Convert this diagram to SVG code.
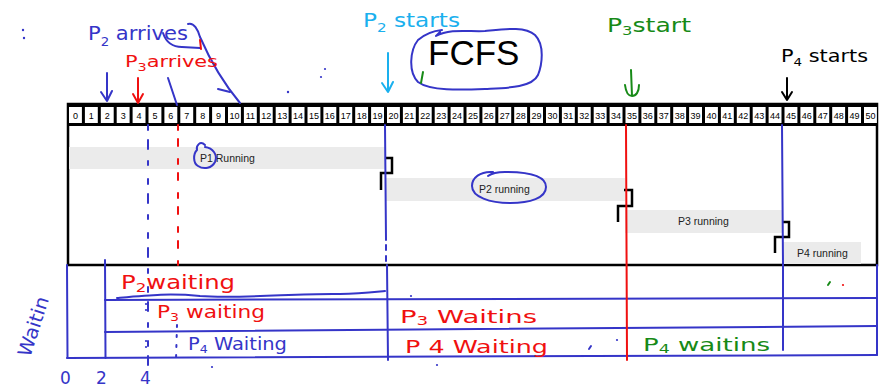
<svg xmlns="http://www.w3.org/2000/svg" width="879" height="387" viewBox="0 0 879 387">
<style>
.cell{fill:#fff}
.cl{font-family:"Liberation Sans",Arial,sans-serif;font-size:9px;text-anchor:middle;fill:#000}
.bar{fill:#ebebeb}
.bt{font-family:"Liberation Sans",Arial,sans-serif;font-size:10.5px;fill:#222}
.hb{stroke:#3535c8;fill:none;stroke-width:2;stroke-linecap:round;stroke-linejoin:round}
.hr{stroke:#f01010;fill:none;stroke-width:2;stroke-linecap:round;stroke-linejoin:round}
.hc{stroke:#1ab0ee;fill:none;stroke-width:2;stroke-linecap:round;stroke-linejoin:round}
.hg{stroke:#178a17;fill:none;stroke-width:2;stroke-linecap:round;stroke-linejoin:round}
.hk{stroke:#000;fill:none;stroke-width:2;stroke-linecap:round;stroke-linejoin:round}
.hw{font-family:"DejaVu Sans","Liberation Sans",sans-serif}
.tb{fill:#3535c8}.tr{fill:#f01010}.tc{fill:#1ab0ee}.tg{fill:#178a17}.tk{fill:#000}
.conn{stroke:#000;stroke-width:2.5;fill:none;stroke-linejoin:miter}
</style>

<g id="chart-box">
<rect x="68" y="104" width="809" height="161" fill="#fff" stroke="#000" stroke-width="2.5"/>
</g>

<g id="timeline">
<rect x="67.5" y="104" width="810.5" height="22" fill="#000"/>
<rect class="cell" x="69" y="107" width="12.9" height="16"/><text class="cl" x="75.45" y="119">0</text>
<rect class="cell" x="84.9" y="107" width="12.9" height="16"/><text class="cl" x="91.35" y="119">1</text>
<rect class="cell" x="100.8" y="107" width="12.9" height="16"/><text class="cl" x="107.25" y="119">2</text>
<rect class="cell" x="116.7" y="107" width="12.9" height="16"/><text class="cl" x="123.15" y="119">3</text>
<rect class="cell" x="132.6" y="107" width="12.9" height="16"/><text class="cl" x="139.05" y="119">4</text>
<rect class="cell" x="148.5" y="107" width="12.9" height="16"/><text class="cl" x="154.95" y="119">5</text>
<rect class="cell" x="164.4" y="107" width="12.9" height="16"/><text class="cl" x="170.85" y="119">6</text>
<rect class="cell" x="180.3" y="107" width="12.9" height="16"/><text class="cl" x="186.75" y="119">7</text>
<rect class="cell" x="196.2" y="107" width="12.9" height="16"/><text class="cl" x="202.65" y="119">8</text>
<rect class="cell" x="212.1" y="107" width="12.9" height="16"/><text class="cl" x="218.55" y="119">9</text>
<rect class="cell" x="228" y="107" width="12.9" height="16"/><text class="cl" x="234.45" y="119">10</text>
<rect class="cell" x="243.9" y="107" width="12.9" height="16"/><text class="cl" x="250.35" y="119">11</text>
<rect class="cell" x="259.8" y="107" width="12.9" height="16"/><text class="cl" x="266.25" y="119">12</text>
<rect class="cell" x="275.7" y="107" width="12.9" height="16"/><text class="cl" x="282.15" y="119">13</text>
<rect class="cell" x="291.6" y="107" width="12.9" height="16"/><text class="cl" x="298.05" y="119">14</text>
<rect class="cell" x="307.5" y="107" width="12.9" height="16"/><text class="cl" x="313.95" y="119">15</text>
<rect class="cell" x="323.4" y="107" width="12.9" height="16"/><text class="cl" x="329.85" y="119">16</text>
<rect class="cell" x="339.3" y="107" width="12.9" height="16"/><text class="cl" x="345.75" y="119">17</text>
<rect class="cell" x="355.2" y="107" width="12.9" height="16"/><text class="cl" x="361.65" y="119">18</text>
<rect class="cell" x="371.1" y="107" width="12.9" height="16"/><text class="cl" x="377.55" y="119">19</text>
<rect class="cell" x="387" y="107" width="12.9" height="16"/><text class="cl" x="393.45" y="119">20</text>
<rect class="cell" x="402.9" y="107" width="12.9" height="16"/><text class="cl" x="409.35" y="119">21</text>
<rect class="cell" x="418.8" y="107" width="12.9" height="16"/><text class="cl" x="425.25" y="119">22</text>
<rect class="cell" x="434.7" y="107" width="12.9" height="16"/><text class="cl" x="441.15" y="119">23</text>
<rect class="cell" x="450.6" y="107" width="12.9" height="16"/><text class="cl" x="457.05" y="119">24</text>
<rect class="cell" x="466.5" y="107" width="12.9" height="16"/><text class="cl" x="472.95" y="119">25</text>
<rect class="cell" x="482.4" y="107" width="12.9" height="16"/><text class="cl" x="488.85" y="119">26</text>
<rect class="cell" x="498.3" y="107" width="12.9" height="16"/><text class="cl" x="504.75" y="119">27</text>
<rect class="cell" x="514.2" y="107" width="12.9" height="16"/><text class="cl" x="520.65" y="119">28</text>
<rect class="cell" x="530.1" y="107" width="12.9" height="16"/><text class="cl" x="536.55" y="119">29</text>
<rect class="cell" x="546" y="107" width="12.9" height="16"/><text class="cl" x="552.45" y="119">30</text>
<rect class="cell" x="561.9" y="107" width="12.9" height="16"/><text class="cl" x="568.35" y="119">31</text>
<rect class="cell" x="577.8" y="107" width="12.9" height="16"/><text class="cl" x="584.25" y="119">32</text>
<rect class="cell" x="593.7" y="107" width="12.9" height="16"/><text class="cl" x="600.15" y="119">33</text>
<rect class="cell" x="609.6" y="107" width="12.9" height="16"/><text class="cl" x="616.05" y="119">34</text>
<rect class="cell" x="625.5" y="107" width="12.9" height="16"/><text class="cl" x="631.95" y="119">35</text>
<rect class="cell" x="641.4" y="107" width="12.9" height="16"/><text class="cl" x="647.85" y="119">36</text>
<rect class="cell" x="657.3" y="107" width="12.9" height="16"/><text class="cl" x="663.75" y="119">37</text>
<rect class="cell" x="673.2" y="107" width="12.9" height="16"/><text class="cl" x="679.65" y="119">38</text>
<rect class="cell" x="689.1" y="107" width="12.9" height="16"/><text class="cl" x="695.55" y="119">39</text>
<rect class="cell" x="705" y="107" width="12.9" height="16"/><text class="cl" x="711.45" y="119">40</text>
<rect class="cell" x="720.9" y="107" width="12.9" height="16"/><text class="cl" x="727.35" y="119">41</text>
<rect class="cell" x="736.8" y="107" width="12.9" height="16"/><text class="cl" x="743.25" y="119">42</text>
<rect class="cell" x="752.7" y="107" width="12.9" height="16"/><text class="cl" x="759.15" y="119">43</text>
<rect class="cell" x="768.6" y="107" width="12.9" height="16"/><text class="cl" x="775.05" y="119">44</text>
<rect class="cell" x="784.5" y="107" width="12.9" height="16"/><text class="cl" x="790.95" y="119">45</text>
<rect class="cell" x="800.4" y="107" width="12.9" height="16"/><text class="cl" x="806.85" y="119">46</text>
<rect class="cell" x="816.3" y="107" width="12.9" height="16"/><text class="cl" x="822.75" y="119">47</text>
<rect class="cell" x="832.2" y="107" width="12.9" height="16"/><text class="cl" x="838.65" y="119">48</text>
<rect class="cell" x="848.1" y="107" width="12.9" height="16"/><text class="cl" x="854.55" y="119">49</text>
<rect class="cell" x="864" y="107" width="12.9" height="16"/><text class="cl" x="870.45" y="119">50</text>
</g>

<g id="p1-running">
<rect class="bar" x="69" y="147" width="317" height="22"/>
<text class="bt" x="200" y="161.5" font-size="10">P1 Running</text>
</g>
<g id="p2-running">
<rect class="bar" x="386" y="178" width="239" height="23"/>
<text class="bt" x="479" y="193">P2 running</text>
</g>
<g id="p3-running">
<rect class="bar" x="625" y="210" width="157" height="23"/>
<text class="bt" x="678" y="225">P3 running</text>
</g>
<g id="p4-running">
<rect class="bar" x="783" y="242" width="78" height="22"/>
<text class="bt" x="797" y="257">P4 running</text>
</g>

<g id="connectors">
<path class="conn" d="M386 158 H392 V173 H381 V190"/>
<path class="conn" d="M624 190 H632 V206 H618 V222"/>
<path class="conn" d="M783 222 H789 V237 H775 V253"/>
</g>

<g id="waiting-grid">
<path class="hb" d="M67 265 L67.5 358"/>
<path class="hb" d="M105 260 L105.5 358"/>
<path class="hb" d="M877 265 L877 355"/>
<path class="hb" d="M105 300 L877 298"/>
<path class="hb" d="M105 332 L877 326"/>
<path class="hb" d="M67 358 L877 355"/>
<path class="hb" d="M387 265 L388 360"/>
<path class="hb" d="M783 265 L783 350"/>
<path class="hb" d="M117 298 C150 295 170 293 200 296 C240 299 300 293 340 294 C360 294 375 292 385 291" stroke-width="1.8"/>
</g>

<g id="time-markers">
<path class="hb" d="M148 125 L148 365" stroke-dasharray="5 10 9 12 4 14"/>
<path class="hr" d="M178 125 L178 265" stroke-dasharray="5 9 7 13"/>
<path class="hb" d="M177 325 L176 360" stroke-dasharray="2 8"/>
<path class="hb" d="M385 125 L386 240" stroke-width="1.6"/>
<path class="hb" d="M386 245 L386 265" stroke-dasharray="5 6"/>
<path class="hr" d="M626 125 L627 360"/>
<path class="hb" d="M782 125 L783 265"/>
</g>

<g id="annotations-top">
<text class="hw tb" x="88" y="40" font-size="19" textLength="100" lengthAdjust="spacingAndGlyphs">P<tspan font-size="12" dy="6">2</tspan><tspan dy="-6"> arrives</tspan></text>
<path class="hb" d="M163 33 C166 42 172 47 182 47 L200 48"/>
<path class="hb" d="M188 24 C194 22 198 30 200 37 C210 60 225 85 240 103"/>
<path class="hb" d="M218 89 L230 92"/>
<path class="hr" d="M200 40 L201 49"/>
<text class="hw tr" x="125" y="67" font-size="16" textLength="93" lengthAdjust="spacingAndGlyphs">P<tspan font-size="11" dy="4">3</tspan><tspan dy="-4">arrives</tspan></text>
<path class="hb" d="M107 73 L107 101 M101 92 L107 101 L112 91"/>
<path class="hr" d="M138 78 L138 103 M133 94 L138 103 L143 94"/>
<path class="hb" d="M168 78 L177 105"/>
<circle cx="288" cy="92" r="1.2" fill="#3535c8"/>
<circle cx="23" cy="30" r="1.2" fill="#3535c8"/>
<circle cx="24" cy="38" r="1.2" fill="#3535c8"/>
<text class="hw tc" x="363" y="27" font-size="20" textLength="97" lengthAdjust="spacingAndGlyphs">P<tspan font-size="13" dy="5">2</tspan><tspan dy="-5"> starts</tspan></text>
<path class="hc" d="M388 53 L388 92 M382 83 L388 92 L393 82"/>
<circle cx="325" cy="69" r="1.1" fill="#3535c8"/>
<circle cx="321" cy="77" r="1.1" fill="#3535c8"/>
<text class="hw tg" x="607" y="32" font-size="20" textLength="84" lengthAdjust="spacingAndGlyphs">P<tspan font-size="13" dy="3">3</tspan><tspan dy="-3">start</tspan></text>
<path class="hg" d="M631 70 L632 96 M625 85 C626 93 629 96 632 96 C636 96 639 92 639 85"/>
<text class="hw tk" x="781" y="62" font-size="17" textLength="87" lengthAdjust="spacingAndGlyphs">P<tspan font-size="11" dy="4">4</tspan><tspan dy="-4"> starts</tspan></text>
<path class="hk" d="M787 78 L787 100 M782 92 L787 100 L792 92" stroke-width="1.6"/>
</g>

<g id="fcfs-title">
<text x="428" y="65" font-family="Liberation Sans,Arial,sans-serif" font-size="35" fill="#000">FCFS</text>
<path class="hb" d="M440 32 L436 36 C450 28 470 32 485 31 C505 29 525 26 535 35 C545 45 542 65 538 75 C532 88 505 88 485 89 C460 90 430 91 418 82 C408 72 410 50 418 40 C425 34 432 31 442 30" stroke-width="2.2"/>
<path class="hg" d="M423 72 L421 83" stroke-width="1.5"/>
</g>

<g id="running-marks">
<path class="hb" d="M205 145 C200 140 196 146 197 150 C193 154 193 163 198 166 C204 170 212 168 215 162 C218 155 213 148 205 147" stroke-width="1.8"/>
<path class="hb" d="M493 172 C480 171 472 178 472 186 C472 197 490 203 510 203 C530 203 546 198 546 187 C546 175 528 172 505 172 C498 172 492 173 488 176" stroke-width="1.8"/>
</g>

<g id="annotations-waiting">
<text class="hw tb" x="0" y="0" font-size="19" transform="translate(30 358) rotate(-72)" textLength="62" lengthAdjust="spacingAndGlyphs">Waitin</text>
<text class="hw tb" x="60" y="384" font-size="17">0</text>
<text class="hw tb" x="96" y="384" font-size="17">2</text>
<text class="hw tb" x="140" y="384" font-size="17">4</text>
<text class="hw tr" x="121" y="289" font-size="19" textLength="114" lengthAdjust="spacingAndGlyphs">P<tspan font-size="13" dy="3">2</tspan><tspan dy="-3">waiting</tspan></text>
<text class="hw tr" x="157" y="318" font-size="17" textLength="108" lengthAdjust="spacingAndGlyphs">P<tspan font-size="11" dy="3">3</tspan><tspan dy="-3"> waiting</tspan></text>
<text class="hw tb" x="188" y="350" font-size="17" textLength="99" lengthAdjust="spacingAndGlyphs">P<tspan font-size="11" dy="3">4</tspan><tspan dy="-3"> Waiting</tspan></text>
<text class="hw tr" x="400" y="323" font-size="18" textLength="137" lengthAdjust="spacingAndGlyphs">P<tspan font-size="12" dy="2">3</tspan><tspan dy="-2">  Waitins</tspan></text>
<text class="hw tr" x="405" y="353" font-size="18" textLength="143" lengthAdjust="spacingAndGlyphs">P 4  Waiting</text>
<text class="hw tg" x="643" y="351" font-size="18" textLength="127" lengthAdjust="spacingAndGlyphs">P<tspan font-size="12" dy="2">4</tspan><tspan dy="-2">  waitins</tspan></text>
<circle cx="146" cy="304" r="1.1" fill="#3535c8"/>
<circle cx="146" cy="310" r="1.1" fill="#3535c8"/>
<circle cx="146" cy="341" r="1.1" fill="#3535c8"/>
<circle cx="146" cy="347" r="1.1" fill="#3535c8"/>
<circle cx="411" cy="296" r="1.1" fill="#3535c8"/>
<circle cx="437" cy="365" r="1.1" fill="#3535c8"/>
<circle cx="212" cy="367" r="1.1" fill="#3535c8"/>
<circle cx="617" cy="340" r="1.1" fill="#3535c8"/>
<path class="hb" d="M589 349 L591 346" stroke-width="1.6"/>
<path class="hg" d="M828 285 L830 282" stroke-width="1.6"/>
<circle cx="843" cy="285" r="1.1" fill="#f01010"/>
</g>
</svg>
